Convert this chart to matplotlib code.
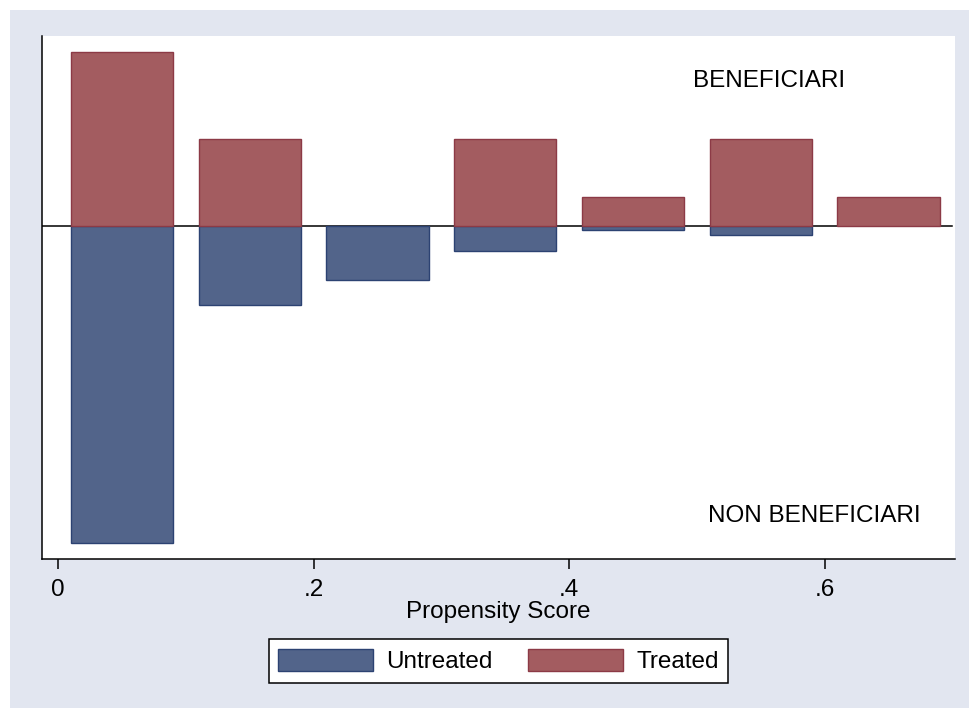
import numpy as np
import matplotlib
matplotlib.use('Agg')
import matplotlib.pyplot as plt
from matplotlib.patches import Rectangle

plt.rcParams['font.family'] = ['Liberation Sans', 'DejaVu Sans']

# Propensity score bins (centres) and share of units per bin
bin_centers = [0.05, 0.15, 0.25, 0.35, 0.45, 0.55, 0.65]
treated = [0.353, 0.176, 0.0, 0.176, 0.059, 0.176, 0.059]
untreated = [0.646, 0.162, 0.111, 0.051, 0.010, 0.020, 0.0]
tick_vals = [0, 0.2, 0.4, 0.6]
tick_labels = ['0', '.2', '.4', '.6']

BG = '#e2e6f0'
RED = '#a35c60'
RED_EDGE = '#8c3a46'
BLUE = '#52648a'
BLUE_EDGE = '#2c4272'
FS = 17.5

fig = plt.figure(figsize=(9.70, 7.08), dpi=100, facecolor='white')
fig.patches.append(Rectangle((10 / 970, 0), 1, 1 - 10 / 708, transform=fig.transFigure,
                             facecolor=BG, edgecolor='none', zorder=-10))

ax = fig.add_axes([42 / 970, 1 - 559 / 708, (955 - 42) / 970, (559 - 36) / 708])
ax.set_facecolor('white')

x = np.array(bin_centers)
t = np.array(treated)
u = np.array(untreated)

ax.axhline(0, xmax=0.997, color='black', lw=1.1, zorder=1)
m = u > 0
b1 = ax.bar(x[m], -u[m], width=0.08, color=BLUE, edgecolor=BLUE_EDGE, lw=1, zorder=2, label='Untreated')
m = t > 0
b2 = ax.bar(x[m], t[m], width=0.08, color=RED, edgecolor=RED_EDGE, lw=1, zorder=3, label='Treated')

ax.set_xlim(-0.0125, 0.702)
ax.set_ylim(-0.679, 0.386)

ax.text(0.497, 0.294, 'BENEFICIARI', fontsize=FS, ha='left', va='center')
ax.text(0.509, -0.591, 'NON BENEFICIARI', fontsize=FS, ha='left', va='center')

for s in ['top', 'right']:
    ax.spines[s].set_visible(False)
ax.spines['left'].set_linewidth(1.1)
ax.spines['bottom'].set_linewidth(1.1)
ax.set_yticks([])
ax.set_xticks(tick_vals)
ax.set_xticklabels(tick_labels)
ax.tick_params(axis='x', length=7, width=1.1, pad=7.5, labelsize=FS)
ax.set_xlabel('Propensity Score', fontsize=FS, labelpad=0)

leg = fig.legend(handles=[b1, b2], loc='center', bbox_to_anchor=(498.5 / 970, 1 - 661 / 708),
                 ncol=2, fontsize=FS, frameon=True, fancybox=False, edgecolor='black',
                 handlelength=3.9, handleheight=1.05, handletextpad=0.55, columnspacing=1.45,
                 borderpad=0.4)
leg.get_frame().set_linewidth(1.1)
leg.get_frame().set_facecolor('white')
leg.get_frame().set_alpha(1)

fig.savefig('out.png', dpi=100, facecolor=fig.get_facecolor())
